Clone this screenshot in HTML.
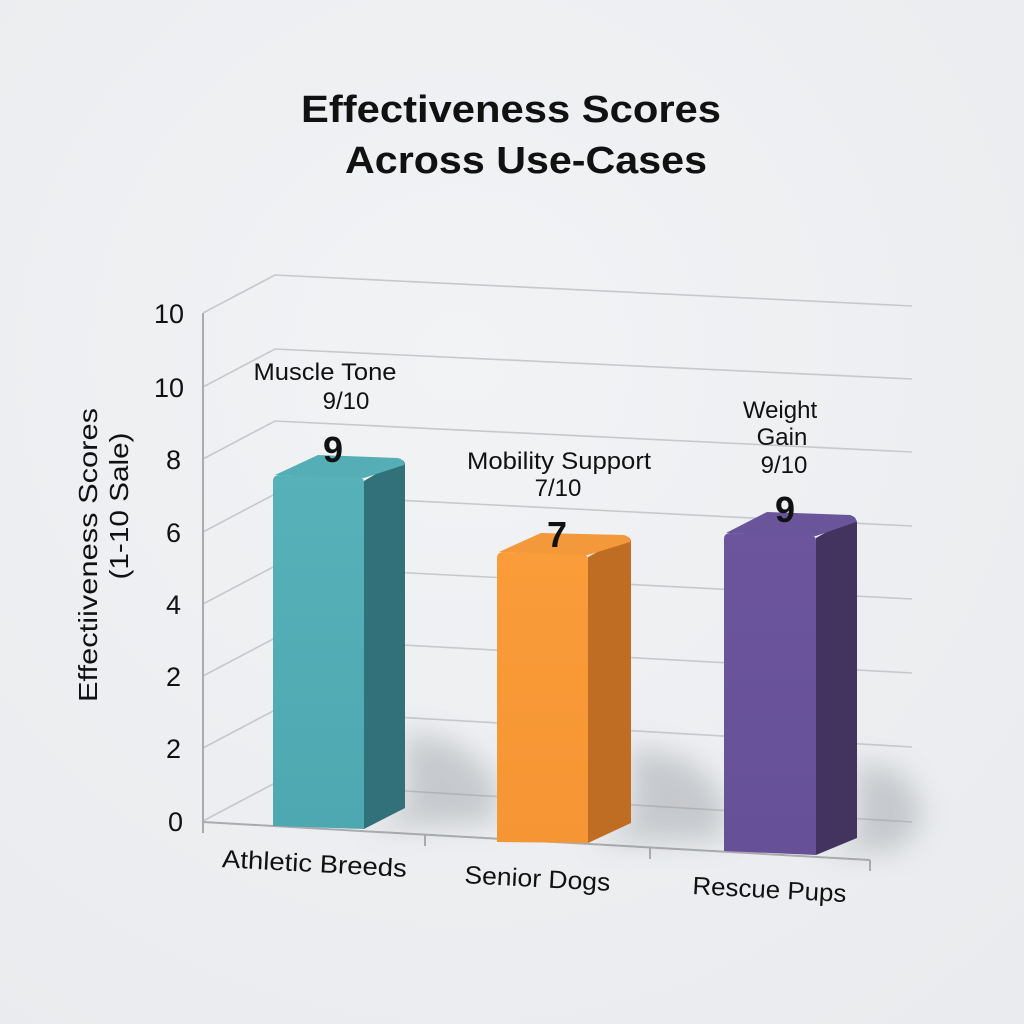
<!DOCTYPE html>
<html>
<head>
<meta charset="utf-8">
<style>
html,body{margin:0;padding:0;background:#eef0f2;}
svg{display:block;}
text{font-family:"Liberation Sans",Arial,sans-serif;fill:#111;}
</style>
</head>
<body>
<svg width="1024" height="1024" viewBox="0 0 1024 1024" xmlns="http://www.w3.org/2000/svg">
<defs>
  <radialGradient id="bg" cx="0.45" cy="0.35" r="0.8">
    <stop offset="0" stop-color="#f1f3f5"/>
    <stop offset="1" stop-color="#e9ebee"/>
  </radialGradient>
  <filter id="blur" x="-50%" y="-50%" width="200%" height="200%">
    <feGaussianBlur stdDeviation="14"/>
  </filter>
  <linearGradient id="tealF" x1="0" y1="0" x2="0" y2="1">
    <stop offset="0" stop-color="#56b1b9"/>
    <stop offset="1" stop-color="#4ea8b1"/>
  </linearGradient>
  <linearGradient id="oraF" x1="0" y1="0" x2="0" y2="1">
    <stop offset="0" stop-color="#f99c39"/>
    <stop offset="1" stop-color="#f69533"/>
  </linearGradient>
  <linearGradient id="purF" x1="0" y1="0" x2="0" y2="1">
    <stop offset="0" stop-color="#6c559d"/>
    <stop offset="1" stop-color="#665097"/>
  </linearGradient>
</defs>
<rect width="1024" height="1024" fill="url(#bg)"/>

<!-- Title -->
<text x="511" y="122" font-size="38" font-weight="bold" text-anchor="middle" textLength="420" lengthAdjust="spacingAndGlyphs">Effectiveness Scores</text>
<text x="526" y="173" font-size="38" font-weight="bold" text-anchor="middle" textLength="362" lengthAdjust="spacingAndGlyphs">Across Use-Cases</text>

<!-- Grid lines -->
<g stroke="#c6c8cb" stroke-width="1.6" fill="none">
  <polyline points="203,313 275,275 912,306"/>
  <polyline points="203,387 275,349 912,379"/>
  <polyline points="203,459 275,421 912,452"/>
  <polyline points="203,532 275,494 912,526"/>
  <polyline points="203,604 275,566 912,599"/>
  <polyline points="203,676 275,638 912,673"/>
  <polyline points="203,748 275,710 912,747"/>
  <polyline points="203,821 275,783 912,822"/>
</g>

<!-- Axes -->
<g stroke="#a9abae" stroke-width="2" fill="none">
  <line x1="203" y1="313" x2="203" y2="833"/>
  <line x1="203" y1="822" x2="870" y2="860"/>
  <line x1="425" y1="835" x2="425" y2="846"/>
  <line x1="650" y1="848" x2="650" y2="859"/>
  <line x1="870" y1="860" x2="870" y2="871"/>
</g>

<!-- Shadows -->
<g filter="url(#blur)" fill="#8e9297" opacity="0.4">
  <polygon points="364,829 405,808 405,730 460,745 497,780 497,822"/>
  <polygon points="588,843 631,823 631,745 690,760 724,795 724,840"/>
  <polygon points="816,855 857,838 857,760 905,775 925,815 900,850"/>
</g>

<!-- Teal bar -->
<path d="M364,481 L364,829 L405,808 L405,466 Q405,459 399,460 Z" fill="#33717a"/>
<path d="M273,826 L273,481 Q273,475 280,475 L358,477 Q364,477 364,483 L364,829 Z" fill="url(#tealF)"/>
<path d="M275,475 L318,455 L398,458 Q405,460 404,465 L364,478 L280,475 Z" fill="#55adb5"/>

<!-- Orange bar -->
<path d="M588,557 L588,843 L631,823 L631,543 Q631,536 625,537 Z" fill="#bf6d22"/>
<path d="M497,842 L497,558 Q497,552 504,552 L582,554 Q588,554 588,560 L588,843 Z" fill="url(#oraF)"/>
<path d="M499,552 L541,533 L624,535 Q631,537 630,542 L588,555 L504,552 Z" fill="#f3993b"/>

<!-- Purple bar -->
<path d="M816,538 L816,855 L857,838 L857,524 Q857,517 851,518 Z" fill="#42335f"/>
<path d="M724,851 L724,539 Q724,533 731,533 L810,535 Q816,535 816,541 L816,855 Z" fill="url(#purF)"/>
<path d="M726,533 L767,512 L850,515 Q857,517 856,522 L816,536 L731,533 Z" fill="#6a559b"/>

<!-- Y tick labels -->
<g font-size="27" text-anchor="end">
  <text x="184" y="323">10</text>
  <text x="184" y="397">10</text>
  <text x="181" y="469">8</text>
  <text x="181" y="542">6</text>
  <text x="181" y="614">4</text>
  <text x="181" y="686">2</text>
  <text x="181" y="758">2</text>
  <text x="183" y="831">0</text>
</g>

<!-- Y axis title -->
<text transform="translate(97,555) rotate(-90)" font-size="26" text-anchor="middle" textLength="294" lengthAdjust="spacingAndGlyphs">Effectiiveness Scores</text>
<text transform="translate(128,506) rotate(-90)" font-size="26" text-anchor="middle" textLength="147" lengthAdjust="spacingAndGlyphs">(1-10 Sale)</text>

<!-- Annotations -->
<g font-size="24" text-anchor="middle">
  <text x="325" y="380" textLength="143" lengthAdjust="spacingAndGlyphs">Muscle Tone</text>
  <text x="346" y="409">9/10</text>
  <text x="559" y="469" textLength="184" lengthAdjust="spacingAndGlyphs">Mobility Support</text>
  <text x="558" y="496">7/10</text>
  <text x="780" y="418">Weight</text>
  <text x="782" y="445">Gain</text>
  <text x="784" y="473">9/10</text>
</g>
<g font-size="36" font-weight="bold" text-anchor="middle">
  <text x="333" y="462">9</text>
  <text x="557" y="547">7</text>
  <text x="785" y="522">9</text>
</g>

<!-- X labels -->
<g font-size="25" text-anchor="middle">
  <text transform="translate(314,872) rotate(3)" textLength="185" lengthAdjust="spacingAndGlyphs">Athletic Breeds</text>
  <text transform="translate(537,887) rotate(3)" textLength="146" lengthAdjust="spacingAndGlyphs">Senior Dogs</text>
  <text transform="translate(769,898) rotate(3)" textLength="154" lengthAdjust="spacingAndGlyphs">Rescue Pups</text>
</g>
</svg>
</body>
</html>
